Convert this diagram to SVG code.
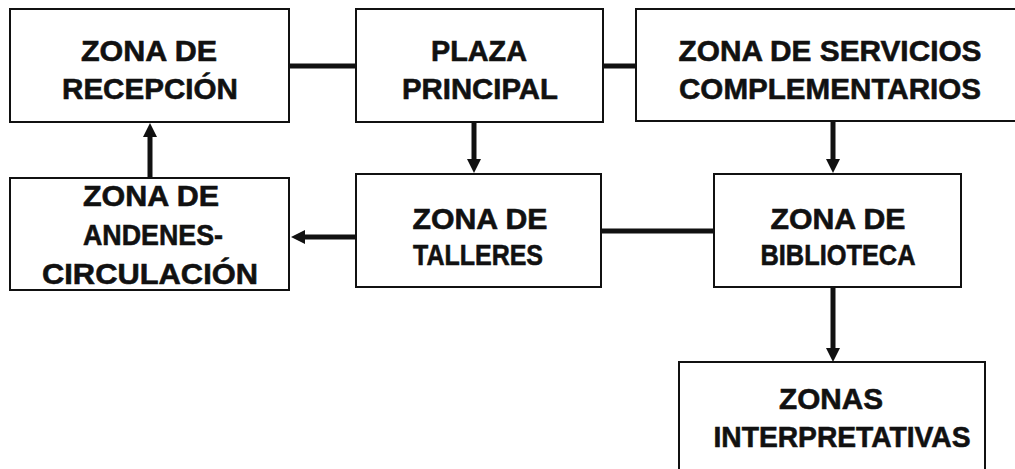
<svg xmlns="http://www.w3.org/2000/svg" width="1015" height="469" viewBox="0 0 1015 469">
<style>
.box{fill:#fff;stroke:#111;stroke-width:2}
.t{font-family:"Liberation Sans",Arial,sans-serif;font-weight:bold;font-size:30px;fill:#111;stroke:#111;stroke-width:0.6;text-anchor:middle}
.c{stroke:#111;stroke-width:5;fill:none}
</style>
<defs>
<marker id="ah" markerUnits="userSpaceOnUse" markerWidth="16" markerHeight="16" refX="6" refY="7" orient="auto">
<path d="M0,0 L14,7 L0,14 z" fill="#111"/>
</marker>
</defs>
<rect width="1015" height="469" fill="#fff"/>
<g id="connectors">
<line class="c" x1="289" y1="66" x2="356" y2="66"/>
<line class="c" x1="603" y1="66" x2="636" y2="66"/>
<line class="c" x1="601" y1="231" x2="714" y2="231"/>
<line class="c" x1="474" y1="122" x2="474" y2="165" marker-end="url(#ah)"/>
<line class="c" x1="833" y1="121" x2="833" y2="165" marker-end="url(#ah)"/>
<line class="c" x1="833" y1="287" x2="833" y2="354" marker-end="url(#ah)"/>
<line class="c" x1="356" y1="237" x2="299" y2="237" marker-end="url(#ah)"/>
<line class="c" x1="150" y1="178" x2="150" y2="131" marker-end="url(#ah)"/>
</g>
<g id="recepcion">
<rect class="box" x="10" y="9" width="279" height="113"/>
<text class="t" x="149" y="61" textLength="136" lengthAdjust="spacingAndGlyphs">ZONA DE</text>
<text class="t" x="150" y="99" textLength="176" lengthAdjust="spacingAndGlyphs">RECEPCIÓN</text>
</g>
<g id="plaza">
<rect class="box" x="356" y="9" width="247" height="113"/>
<text class="t" x="479" y="61" textLength="96" lengthAdjust="spacingAndGlyphs">PLAZA</text>
<text class="t" x="480" y="99" textLength="156" lengthAdjust="spacingAndGlyphs">PRINCIPAL</text>
</g>
<g id="servicios">
<rect class="box" x="636" y="9" width="400" height="112"/>
<text class="t" x="830" y="61" textLength="303" lengthAdjust="spacingAndGlyphs">ZONA DE SERVICIOS</text>
<text class="t" x="830" y="99" textLength="302" lengthAdjust="spacingAndGlyphs">COMPLEMENTARIOS</text>
</g>
<g id="andenes">
<rect class="box" x="10" y="178" width="279" height="112"/>
<text class="t" x="151" y="206" textLength="136" lengthAdjust="spacingAndGlyphs">ZONA DE</text>
<text class="t" x="153" y="245" textLength="140" lengthAdjust="spacingAndGlyphs">ANDENES-</text>
<text class="t" x="150" y="284" textLength="216" lengthAdjust="spacingAndGlyphs">CIRCULACIÓN</text>
</g>
<g id="talleres">
<rect class="box" x="356" y="174" width="245" height="113"/>
<text class="t" x="480" y="229" textLength="135" lengthAdjust="spacingAndGlyphs">ZONA DE</text>
<text class="t" x="478" y="265" textLength="130" lengthAdjust="spacingAndGlyphs">TALLERES</text>
</g>
<g id="biblioteca">
<rect class="box" x="714" y="174" width="247" height="113"/>
<text class="t" x="838" y="229" textLength="135" lengthAdjust="spacingAndGlyphs">ZONA DE</text>
<text class="t" x="838" y="265" textLength="155" lengthAdjust="spacingAndGlyphs">BIBLIOTECA</text>
</g>
<g id="interpretativas">
<rect class="box" x="679" y="362" width="306" height="120"/>
<text class="t" x="831" y="409" textLength="104" lengthAdjust="spacingAndGlyphs">ZONAS</text>
<text class="t" x="842" y="447" textLength="257" lengthAdjust="spacingAndGlyphs">INTERPRETATIVAS</text>
</g>
</svg>
